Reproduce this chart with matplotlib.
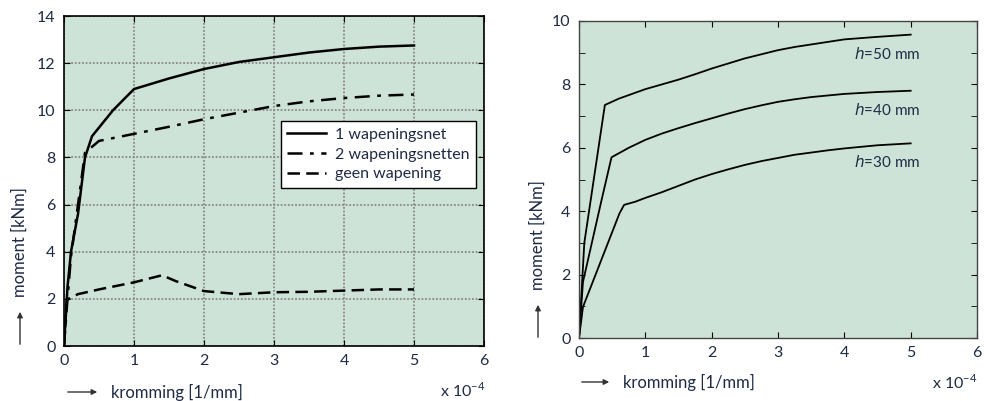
import matplotlib
matplotlib.use("Agg")
import matplotlib.pyplot as plt

plt.rcParams['font.family'] = ['Lato', 'DejaVu Sans']

# ------------------------- data (x in 1e-4 1/mm, y in kNm) -------------------------
# left: moment-kromming for different reinforcement
x_net1 = [0, 0.05, 0.1, 0.2, 0.3, 0.4, 0.7, 1.0, 1.5, 2.0, 2.5, 3.0, 3.5, 4.0, 4.5, 5.0]
y_net1 = [0, 2.5, 4.0, 5.6, 8.0, 8.9, 10.0, 10.9, 11.35, 11.75, 12.05, 12.25, 12.45, 12.6, 12.7, 12.75]

x_net2 = [0, 0.05, 0.1, 0.2, 0.3, 0.5, 1.0, 1.5, 2.0, 2.5, 3.0, 3.5, 4.0, 4.5, 5.0]
y_net2 = [0, 2.0, 3.8, 6.0, 8.2, 8.7, 9.0, 9.3, 9.62, 9.9, 10.18, 10.38, 10.52, 10.62, 10.67]

x_geen = [0, 0.04, 0.1, 0.2, 0.5, 1.0, 1.4, 1.6, 2.0, 2.5, 3.0, 3.5, 4.0, 4.5, 5.0]
y_geen = [0, 1.95, 2.05, 2.2, 2.4, 2.7, 3.0, 2.75, 2.33, 2.2, 2.28, 2.3, 2.35, 2.4, 2.4]

# right: different thickness h
x_h50 = [0, 0.08, 0.39, 0.6, 0.8, 1.0, 1.25, 1.5, 1.75, 2.0, 2.25, 2.5, 2.75, 3.0, 3.25, 3.5, 3.75, 4.0, 4.5, 5.0]
y_h50 = [0, 3.0, 7.35, 7.55, 7.7, 7.85, 8.0, 8.15, 8.32, 8.5, 8.66, 8.82, 8.95, 9.08, 9.18, 9.26, 9.34, 9.42, 9.5, 9.57]

x_h40 = [0, 0.06, 0.34, 0.49, 0.75, 1.0, 1.25, 1.5, 1.75, 2.0, 2.25, 2.5, 2.75, 3.0, 3.25, 3.5, 3.75, 4.0, 4.5, 5.0]
y_h40 = [0, 1.77, 4.35, 5.7, 6.0, 6.25, 6.45, 6.62, 6.78, 6.93, 7.08, 7.22, 7.34, 7.45, 7.53, 7.6, 7.65, 7.7, 7.76, 7.8]

x_h30 = [0, 0.06, 0.61, 0.68, 0.85, 1.0, 1.25, 1.5, 1.75, 2.0, 2.25, 2.5, 2.75, 3.0, 3.25, 3.5, 3.75, 4.0, 4.5, 5.0]
y_h30 = [0, 0.98, 3.93, 4.2, 4.3, 4.42, 4.6, 4.8, 5.0, 5.17, 5.32, 5.46, 5.58, 5.68, 5.78, 5.85, 5.92, 5.98, 6.08, 6.14]

h_labels = ['50', '40', '30']
h_label_y = [8.95, 7.2, 5.55]

bg = '#cde3d7'
txt = '#1f2a44'

fig = plt.figure(figsize=(9.84, 4.01), dpi=100)

# ------------------------- left chart -------------------------
ax1 = fig.add_axes([64/984, 1 - 346/401, 420/984, 330/401])
ax1.set_facecolor(bg)
ax1.plot(x_net1, y_net1, color='black', lw=1.8, label='1 wapeningsnet')
ax1.plot(x_net2, y_net2, color='black', lw=1.8, dashes=(6, 3, 1.5, 3), label='2 wapeningsnetten')
ax1.plot(x_geen, y_geen, color='black', lw=1.8, dashes=(5, 2.5), label='geen wapening')
ax1.set_xlim(0, 6)
ax1.set_ylim(0, 14)
ax1.set_xticks(range(0, 7))
ax1.set_yticks(range(0, 15, 2))
ax1.grid(True, color='#8a8a8a', lw=1.3, dashes=(1, 1))
ax1.tick_params(direction='in', top=True, right=True, length=4, labelsize=11.5,
                labelcolor=txt, pad=6)
for s in ax1.spines.values():
    s.set_linewidth(1.2)
lgnd = ax1.legend(loc='upper right', bbox_to_anchor=(1.0, 0.705), fontsize=11.5,
                  frameon=True, fancybox=False, edgecolor='black', framealpha=1,
                  handlelength=2.4, handletextpad=0.6, borderpad=0.4, labelspacing=0.35)
lgnd.get_frame().set_linewidth(1.0)
for t in lgnd.get_texts():
    t.set_color(txt)

# ------------------------- right chart -------------------------
ax2 = fig.add_axes([579/984, 1 - 338/401, 398/984, 317/401])
ax2.set_facecolor(bg)
ax2.plot(x_h50, y_h50, color='black', lw=1.3)
ax2.plot(x_h40, y_h40, color='black', lw=1.3)
ax2.plot(x_h30, y_h30, color='black', lw=1.3)
for lab, yy in zip(h_labels, h_label_y):
    ax2.text(4.15, yy, r'$\it{h}$' + '=' + lab + ' mm', fontsize=11, color=txt,
             va='center', ha='left')
ax2.set_xlim(0, 6)
ax2.set_ylim(0, 10)
ax2.set_xticks(range(0, 7))
ax2.set_yticks(range(0, 11, 2))
ax2.set_yticks(range(1, 10, 2), minor=True)
ax2.tick_params(which='both', direction='in', top=True, right=True, length=4,
                labelsize=11.5, labelcolor=txt, pad=6)
for s in ax2.spines.values():
    s.set_linewidth(1.0)
    s.set_color('#444444')

# ------------------------- axis labels with arrows -------------------------
for xl, xr, ly, yx, ybot, e_x, e_y in [
        (65, 100, 392, 20, 297, 440, 390),
        (579, 612, 382, 538, 290, 932, 382)]:
    fig.add_artist(matplotlib.patches.FancyArrowPatch(
        (xl/984, 1 - ly/401), (xr/984, 1 - ly/401), transform=fig.transFigure,
        arrowstyle='-|>', mutation_scale=8, lw=1.0, color='#333333'))
    fig.text((xr + 11)/984, 1 - ly/401, 'kromming [1/mm]', fontsize=12, color=txt,
             va='center', ha='left')
    fig.add_artist(matplotlib.patches.FancyArrowPatch(
        (yx/984, 1 - (ybot + 50)/401), (yx/984, 1 - (ybot + 12)/401), transform=fig.transFigure,
        arrowstyle='-|>', mutation_scale=8, lw=1.0, color='#333333'))
    fig.text(yx/984, 1 - ybot/401, 'moment [kNm]', fontsize=12, color=txt, rotation=90,
             va='bottom', ha='center')
    fig.text(e_x/984, 1 - e_y/401, r'x 10$^{\mathregular{-4}}$', fontsize=11.5, color=txt,
             va='center', ha='left')

fig.savefig('out.png', dpi=100)
